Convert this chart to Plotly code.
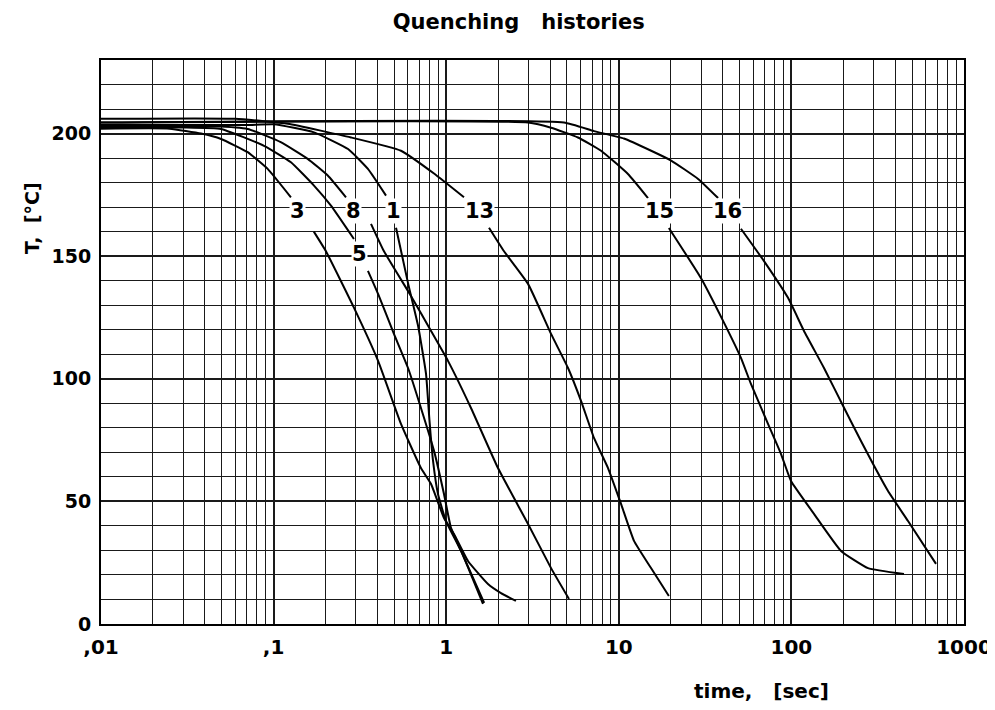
import math
import plotly.graph_objects as go

# ---- data: time [s] and temperature [°C] ----
# each curve is split in an upper part (before its label) and a lower part (after it)
c3_up_t = [0.01, 0.025, 0.038, 0.0496, 0.0708, 0.0924, 0.126]
c3_up_T = [202, 202, 200, 197.8, 192.4, 185.6, 174]
c3_lo_t = [0.171, 0.201, 0.292, 0.403, 0.547, 0.714, 0.817, 0.971, 1.109, 1.337, 1.746, 2.077, 2.535]
c3_lo_T = [160, 152, 129, 107.3, 81.6, 63.6, 57.1, 43.2, 36.7, 25.7, 16.3, 12.6, 9.4]

c5_up_t = [0.01, 0.03, 0.0496, 0.088, 0.126, 0.1714, 0.215, 0.292]
c5_up_T = [202.5, 202.5, 201.9, 195, 188.3, 178.8, 170.6, 157]
c5_lo_t = [0.352, 0.403, 0.498, 0.601, 0.714, 0.85, 0.971, 1.066, 1.219, 1.66]
c5_lo_T = [144, 134.6, 118.3, 104.4, 88.1, 70.6, 53, 39.2, 29.8, 8.6]

c8_up_t = [0.01, 0.045, 0.0708, 0.11, 0.1576, 0.206, 0.2627]
c8_up_T = [203, 203, 201.9, 196.5, 189.7, 182.9, 174]
c8_lo_t = [0.3667, 0.436, 0.625, 0.817, 1.024, 1.392, 1.995, 2.98, 4.05, 5.145]
c8_lo_T = [163.2, 152, 133.8, 119.5, 107.3, 88.1, 63.6, 40.8, 22.8, 10.2]

c1_up_t = [0.01, 0.07, 0.1005, 0.1714, 0.27, 0.352, 0.448]
c1_up_T = [203.5, 203.5, 203.8, 200.5, 193.7, 185.6, 174.7]
c1_lo_t = [0.512, 0.601, 0.687, 0.764, 0.80, 0.839, 0.896, 0.997, 1.219, 1.633]
c1_lo_T = [161.6, 139, 121.6, 102, 83, 66.5, 53, 42, 29.8, 8.2]

c13_up_t = [0.01, 0.06, 0.121, 0.281, 0.547, 0.85, 1.268]
c13_up_T = [206, 206, 204, 198.4, 193, 183.7, 174]
c13_lo_t = [1.77, 2.163, 2.98, 4.05, 5.08, 6.04, 7.18, 8.66, 10.3, 12.25, 15.37, 19.5]
c13_lo_T = [161.6, 152, 138.7, 118.3, 104.4, 91, 75.9, 63.6, 49, 33.9, 22.8, 11.4]

c15_up_t = [0.01, 2.98, 4.05, 5.8, 7.89, 11.3, 14.76]
c15_up_T = [204.5, 204.5, 202.4, 198.4, 193, 183.5, 173.7]
c15_lo_t = [19.5, 29.9, 40.2, 51.0, 58.3, 73.2, 87.1, 99.5, 135.2, 193.9, 277.8, 449]
c15_lo_T = [161.5, 141.1, 123.6, 108.5, 97.9, 81.6, 69.3, 58.3, 44.9, 29.8, 22.8, 20.4]

c16_up_t = [0.01, 4.81, 7.18, 10.7, 15.4, 20.1, 28.8, 37.6]
c16_up_T = [204.5, 204.5, 201, 198, 193, 189, 181.5, 173.7]
c16_lo_t = [51.0, 69.4, 95.6, 118.3, 154.5, 199.1, 253, 362.9, 474, 688.5]
c16_lo_T = [161.2, 148, 133, 119.5, 104.4, 89, 74.6, 54.2, 42, 24.5]

curve_labels = ["3", "8", "1", "13", "15", "16", "5"]
label_t = [0.138, 0.292, 0.492, 1.55, 17.1, 42.4, 0.3125]
label_T = [168.5, 168.5, 168.5, 168.5, 168.5, 168.5, 151]

x_tickvals = [0.01, 0.1, 1, 10, 100, 1000]
x_ticktext = [",01", ",1", "1", "10", "100", "1000"]
y_tickvals = [0, 50, 100, 150, 200]
y_ticktext = ["0", "50", "100", "150", "200"]

segments = [
    (c3_up_t, c3_up_T), (c3_lo_t, c3_lo_T),
    (c5_up_t, c5_up_T), (c5_lo_t, c5_lo_T),
    (c8_up_t, c8_up_T), (c8_lo_t, c8_lo_T),
    (c1_up_t, c1_up_T), (c1_lo_t, c1_lo_T),
    (c13_up_t, c13_up_T), (c13_lo_t, c13_lo_T),
    (c15_up_t, c15_up_T), (c15_lo_t, c15_lo_T),
    (c16_up_t, c16_up_T), (c16_lo_t, c16_lo_T),
]

FONT = "DejaVu Sans, Verdana, sans-serif"
GRID = "#1a1a1a"

fig = go.Figure()
for t, T in segments:
    fig.add_trace(go.Scatter(
        x=t, y=T, mode="lines",
        line=dict(color="black", width=2, shape="spline", smoothing=0.4),
        showlegend=False, hoverinfo="skip",
    ))

for txt, t, T in zip(curve_labels, label_t, label_T):
    fig.add_annotation(
        x=math.log10(t), y=T, xref="x", yref="y", text=txt, showarrow=False,
        xanchor="center", yanchor="middle",
        font=dict(family=FONT, size=21, color="black", weight="bold"),
        bgcolor="white", borderpad=0,
    )

minor_x = [m * 10 ** e for e in range(-2, 3) for m in range(2, 10)]

fig.update_xaxes(
    type="log", range=[-2, 3], automargin=False,
    tickvals=x_tickvals, ticktext=x_ticktext, ticks="",
    tickfont=dict(family=FONT, size=20, color="black", weight="bold"),
    ticklabelstandoff=4,
    showgrid=True, gridcolor=GRID, gridwidth=1.5,
    minor=dict(tickvals=minor_x, showgrid=True, gridcolor=GRID, gridwidth=1.4, ticks=""),
    showline=True, linecolor="black", linewidth=2, mirror=True,
    zeroline=False,
)
fig.update_yaxes(
    range=[0, 230], automargin=False,
    tickvals=y_tickvals, ticktext=y_ticktext, ticks="",
    tickfont=dict(family=FONT, size=19, color="black", weight="bold"),
    ticklabelstandoff=4,
    showgrid=True, gridcolor=GRID, gridwidth=1.5,
    minor=dict(dtick=10, showgrid=True, gridcolor=GRID, gridwidth=1.4, ticks=""),
    showline=True, linecolor="black", linewidth=2, mirror=True,
    zeroline=False,
)

fig.add_annotation(
    text="T,\u00a0\u00a0[°C]", textangle=-90, xref="paper", yref="paper",
    x=-0.080, y=0.72, xanchor="center", yanchor="middle", showarrow=False,
    font=dict(family=FONT, size=19, color="black", weight="bold"),
)
fig.add_annotation(
    text="time,\u00a0\u00a0\u00a0[sec]", xref="paper", yref="paper",
    x=0.765, y=-0.119, xanchor="center", yanchor="middle", showarrow=False,
    font=dict(family=FONT, size=20, color="black", weight="bold"),
)

fig.update_layout(
    width=995, height=710,
    margin=dict(l=93, r=39, t=52, b=94),
    plot_bgcolor="white", paper_bgcolor="white",
    title=dict(text="Quenching\u00a0\u00a0\u00a0histories", x=0.484, xref="paper",
               xanchor="center",
               y=1 - 14 / 710, yref="container", yanchor="middle",
               font=dict(family=FONT, size=21, color="black", weight="bold")),
)

fig.write_html("out.html")
